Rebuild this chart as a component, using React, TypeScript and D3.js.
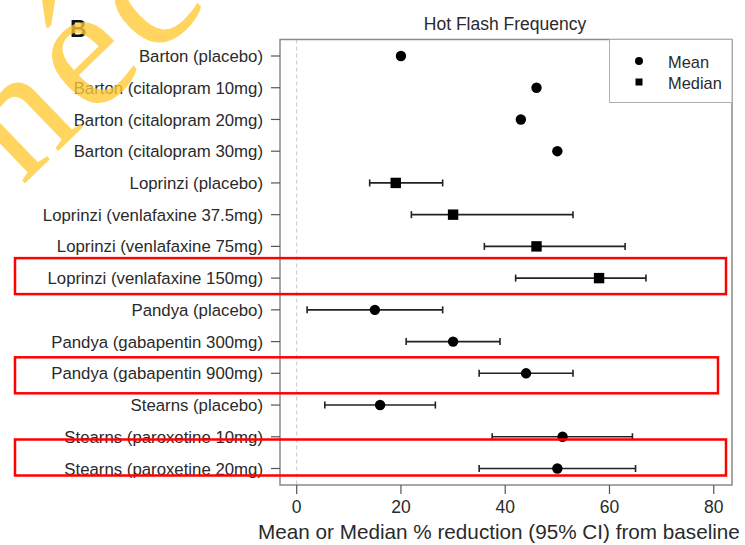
import React from "react";
import * as d3 from "d3";

// Trial arms, top to bottom
const arms = [
  "Barton (placebo)",
  "Barton (citalopram 10mg)",
  "Barton (citalopram 20mg)",
  "Barton (citalopram 30mg)",
  "Loprinzi (placebo)",
  "Loprinzi (venlafaxine 37.5mg)",
  "Loprinzi (venlafaxine 75mg)",
  "Loprinzi (venlafaxine 150mg)",
  "Pandya (placebo)",
  "Pandya (gabapentin 300mg)",
  "Pandya (gabapentin 900mg)",
  "Stearns (placebo)",
  "Stearns (paroxetine 10mg)",
  "Stearns (paroxetine 20mg)",
];
// Summary statistic reported per arm
const statType = [
  "mean", "mean", "mean", "mean",
  "median", "median", "median", "median",
  "mean", "mean", "mean",
  "mean", "mean", "mean",
];
// % reduction from baseline
const estimate = [20, 46, 43, 50, 19, 30, 46, 58, 15, 30, 44, 16, 51, 50];
// 95% CI bounds (null = not reported)
const ciLow: (number | null)[] = [null, null, null, null, 14, 22, 36, 42, 2, 21, 35, 5.4, 37.5, 35];
const ciHigh: (number | null)[] = [null, null, null, null, 28, 53, 63, 67, 28, 39, 53, 26.6, 64.4, 65];

const xTicks = [0, 20, 40, 60, 80];

// Highlighted arms (1-based row) with box tweaks
const highlights = [
  { row: 8, shift: -2, right: 726 },
  { row: 11, shift: 2, right: 718 },
  { row: 14, shift: -11, right: 726 },
];

const W = 745;
const H = 545;
const FONT = "'Liberation Sans', Arial, sans-serif";

export default function App() {
  const plot = { left: 280, right: 732, top: 39.5, bottom: 485 };
  const x = d3.scaleLinear().domain([-3.2, 83.5]).range([plot.left, plot.right]);
  const y = d3.scaleLinear().domain([0.48, 14.52]).range([plot.top, plot.bottom]);
  const textCol = "#2a2a2a";

  return (
    <svg
      width={W}
      height={H}
      style={{ position: "absolute", left: 0, top: 0, background: "#fff" }}
      fontFamily={FONT}
    >
      <rect width={W} height={H} fill="#fff" />

      {/* panel letter */}
      <text x={70} y={37} fontSize={23} fontWeight="bold" fill="#111">B</text>

      {/* title */}
      <text x={505} y={30} fontSize={17.5} textAnchor="middle" fill={textCol}>
        Hot Flash Frequency
      </text>

      {/* zero reference line */}
      <line x1={x(0)} x2={x(0)} y1={plot.top} y2={plot.bottom} stroke="#c8c8c8" strokeDasharray="4,3" strokeWidth={1} />

      {/* frame */}
      <rect x={plot.left} y={plot.top} width={plot.right - plot.left} height={plot.bottom - plot.top}
        fill="none" stroke="#8a8a8a" strokeWidth={1.5} />

      {/* y axis ticks and arm labels */}
      {arms.map((a, i) => (
        <g key={a}>
          <line x1={plot.left - 9} x2={plot.left} y1={y(i + 1)} y2={y(i + 1)} stroke="#555" strokeWidth={1.2} />
          <text x={263} y={y(i + 1)} dy="0.36em" fontSize={16.8} textAnchor="end" fill={textCol}>{a}</text>
        </g>
      ))}

      {/* x axis */}
      {xTicks.map((t) => (
        <g key={t}>
          <line x1={x(t)} x2={x(t)} y1={plot.bottom} y2={plot.bottom + 9} stroke="#555" strokeWidth={1.2} />
          <text x={x(t)} y={plot.bottom + 28} fontSize={17.5} textAnchor="middle" fill={textCol}>{t}</text>
        </g>
      ))}
      <text x={499} y={539} fontSize={20.7} textAnchor="middle" fill={textCol}>
        Mean or Median % reduction (95% CI) from baseline
      </text>

      {/* error bars */}
      {arms.map((a, i) => {
        const lo = ciLow[i];
        const hi = ciHigh[i];
        if (lo == null || hi == null) return null;
        const cy = y(i + 1);
        return (
          <g key={"ci" + a} stroke="#222" strokeWidth={1.6}>
            <line x1={x(lo)} x2={x(hi)} y1={cy} y2={cy} />
            <line x1={x(lo)} x2={x(lo)} y1={cy - 3.5} y2={cy + 3.5} />
            <line x1={x(hi)} x2={x(hi)} y1={cy - 3.5} y2={cy + 3.5} />
          </g>
        );
      })}

      {/* point estimates */}
      {arms.map((a, i) => {
        const cx = x(estimate[i]);
        const cy = y(i + 1);
        return statType[i] === "mean" ? (
          <circle key={"pt" + a} cx={cx} cy={cy} r={5.2} fill="#000" />
        ) : (
          <rect key={"pt" + a} x={cx - 5.2} y={cy - 5.2} width={10.4} height={10.4} fill="#000" />
        );
      })}

      {/* legend */}
      <rect x={609.5} y={plot.top} width={plot.right - 609.5} height={63} fill="#fff" stroke="#b0b0b0" strokeWidth={1} />
      <circle cx={639} cy={61} r={4} fill="#000" />
      <rect x={635.5} y={78.5} width={7} height={7} fill="#000" />
      <text x={668} y={62} dy="0.36em" fontSize={16.4} fill={textCol}>Mean</text>
      <text x={668} y={83} dy="0.36em" fontSize={16.4} fill={textCol}>Median</text>

      {/* highlight boxes */}
      {highlights.map((h) => {
        const cy = y(h.row) + h.shift;
        return (
          <rect key={"hl" + h.row} x={15} y={cy - 18} width={h.right - 15} height={36}
            fill="none" stroke="#ff0000" strokeWidth={2.5} />
        );
      })}

      {/* watermark */}
      <text
        transform="translate(22,186) rotate(-44)"
        fontFamily="'Liberation Serif', 'DejaVu Serif', serif"
        fontSize={175}
        letterSpacing={8}
        fill="#ffc933"
        fillOpacity={0.78}
      >
        nécc
      </text>
    </svg>
  );
}
